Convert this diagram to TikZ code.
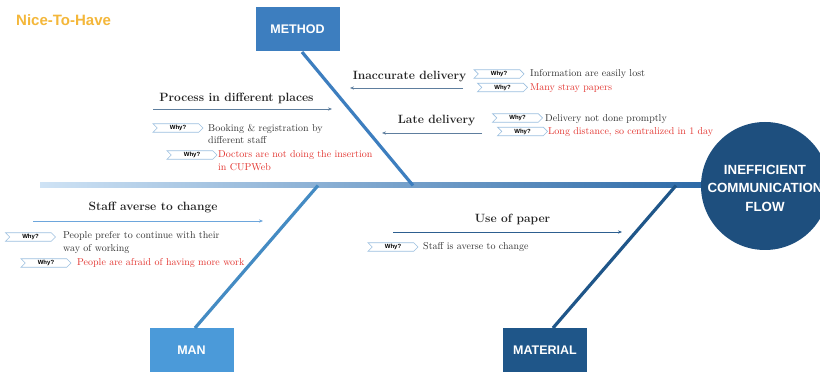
\documentclass[tikz,border=0pt]{standalone}
\usepackage{fontspec}
\setsansfont{Liberation Sans}
\usetikzlibrary{shapes.symbols,arrows.meta}
\definecolor{nicegold}{HTML}{F4B73A}
\definecolor{methodblue}{HTML}{3D7EBF}
\definecolor{manblue}{HTML}{4B9AD9}
\definecolor{matblue}{HTML}{1F5689}
\definecolor{circblue}{HTML}{1E4F7E}
\definecolor{spL}{HTML}{CFE3F5}
\definecolor{spM}{HTML}{3F8FD6}
\definecolor{spR}{HTML}{2A68A6}
\definecolor{tagblue}{HTML}{9CC0E0}
\definecolor{redtxt}{HTML}{E3342F}
\definecolor{arrgray}{HTML}{5E7E9E}
\definecolor{arrlight}{HTML}{6DA6DC}
\definecolor{arrdark}{HTML}{2D5F90}
\definecolor{txtgray}{HTML}{333333}
\tikzset{
  whytag/.style={signal, signal from=west, signal to=east, draw=tagblue, fill=white,
    line width=0.7pt, minimum width=50pt, minimum height=8.5pt, inner sep=0pt,
    font=\sffamily\bfseries\fontsize{6}{6}\selectfont, text=black},
  txt/.style={anchor=base west, inner sep=0pt, font=\fontsize{10}{12.5}\selectfont, align=left, text=txtgray},
  redline/.style={txt, text=redtxt},
  lbl/.style={font=\bfseries\fontsize{12}{14}\selectfont, inner sep=0pt, text=black!85},
  catbox/.style={minimum width=84pt, minimum height=44pt, inner sep=0pt, text=white,
    font=\sffamily\bfseries\fontsize{12.5}{13}\selectfont},
  bone/.style={line width=3.2pt},
  subarrow/.style={line width=0.9pt, -{Stealth[length=4pt,width=3.2pt]}}
}
\begin{document}
\begin{tikzpicture}[x=1pt,y=-1pt]
\useasboundingbox (0,0) rectangle (820,374);
\fill[white] (0,0) rectangle (820,374);

% title
\node[anchor=west, inner sep=0pt, font=\sffamily\bfseries\fontsize{15}{16}\selectfont, text=nicegold] (nice) at (16,20) {Nice-To-Have};

% spine
\shade[left color=spL, middle color=spM, right color=spR] (40,183) rectangle (712,188);
\coordinate (headM) at (413,185.5);
\coordinate (headMan) at (318,185.5);
\coordinate (headMat) at (676,185.5);

% category boxes
\node[catbox, fill=methodblue] (method) at (297.5,29.5) {METHOD};
\node[catbox, fill=manblue] (man) at (191.5,350) {MAN};
\node[catbox, fill=matblue] (material) at (545,350) {MATERIAL};

% bones
\draw[bone, methodblue] (302,52) -- (headM);
\draw[bone, manblue!90!black] (195,328) -- (headMan);
\draw[bone, matblue] (553,328) -- (headMat);

% effect
\node[circle, fill=circblue, minimum size=128pt, inner sep=0pt] (effect) at (765,186) {};
\node[align=center, text=white, font=\sffamily\bfseries\fontsize{13.3}{18.5}\selectfont, inner sep=0pt] (effecttxt) at (765,188) {INEFFICIENT\\COMMUNICATION\\FLOW};

% Inaccurate delivery
\node[lbl] (inacc) at (409.5,77) {Inaccurate delivery};
\coordinate (inaccS) at (463,88); \coordinate (inaccE) at (350,88);
\draw[subarrow, arrgray] (inaccS) -- (inaccE);
\node[whytag] (w1) at (499,74) {Why?};
\node[txt] (t1) at (530,77) {Information are easily lost};
\node[whytag] (w2) at (502.5,87.5) {Why?};
\node[redline] (t2) at (530,91) {Many stray papers};

% Late delivery
\node[lbl] (late) at (436.5,121) {Late delivery};
\coordinate (lateS) at (482,133); \coordinate (lateE) at (382,133);
\draw[subarrow, arrgray] (lateS) -- (lateE);
\node[whytag] (w3) at (517.5,118) {Why?};
\node[txt] (t3) at (545,121.5) {Delivery not done promptly};
\node[whytag] (w4) at (522.5,131.5) {Why?};
\node[redline] (t4) at (548,135) {Long distance, so centralized in 1 day};

% Process in different places
\node[lbl] (proc) at (236.5,98) {Process in different places};
\coordinate (procS) at (153,109); \coordinate (procE) at (332,109);
\draw[subarrow, arrgray] (procS) -- (procE);
\node[whytag] (w5) at (178,128) {Why?};
\node[txt] (t5) at (208,144) {Booking \& registration by\\different staff};
\node[whytag] (w6) at (192,155) {Why?};
\node[redline] (t6) at (218,170.5) {Doctors are not doing the insertion\\in CUPWeb};

% Staff averse to change
\node[lbl] (staff) at (153,208) {Staff averse to change};
\coordinate (staffS) at (33,221); \coordinate (staffE) at (263,221);
\draw[subarrow, arrlight] (staffS) -- (staffE);
\node[whytag] (w7) at (30.5,237) {Why?};
\node[txt] (t7) at (63,251.5) {People prefer to continue with their\\way of working};
\node[whytag] (w8) at (46,263) {Why?};
\node[redline] (t8) at (77,265.5) {People are afraid of having more work};

% Use of paper
\node[lbl] (paper) at (512.5,219) {Use of paper};
\coordinate (paperS) at (393,232); \coordinate (paperE) at (622,232);
\draw[subarrow, arrdark] (paperS) -- (paperE);
\node[whytag] (w9) at (393,247) {Why?};
\node[txt] (t9) at (423,250) {Staff is averse to change};
\end{tikzpicture}
\end{document}
